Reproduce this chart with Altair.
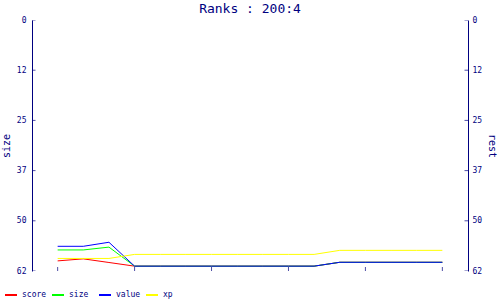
import altair as alt
import pandas as pd

NAVY = "#000080"
FONT = "DejaVu Sans Mono"

x_vals = [13, 14, 15, 16, 17, 18, 19, 20, 21, 22, 23, 24, 25, 26, 27, 28]
score = [59.5, 59.0, 59.9, 60.8, 60.8, 60.8, 60.8, 60.8, 60.8, 60.8, 60.8, 59.85, 59.85, 59.85, 59.85, 59.85]
size = [56.8, 56.8, 56.1, 60.8, 60.8, 60.8, 60.8, 60.8, 60.8, 60.8, 60.8, 59.85, 59.85, 59.85, 59.85, 59.85]
value = [55.9, 55.9, 54.9, 60.8, 60.8, 60.8, 60.8, 60.8, 60.8, 60.8, 60.8, 59.85, 59.85, 59.85, 59.85, 59.85]
xp = [58.9, 58.9, 58.9, 57.9, 57.9, 57.9, 57.9, 57.9, 57.9, 57.9, 57.9, 56.9, 56.9, 56.9, 56.9, 56.9]

series_names = ["score", "size", "value", "xp"]
series_colors = ["#ff0000", "#00ff00", "#0000ff", "#ffff00"]

x_ticks = [13, 16, 19, 22, 25, 28]
y_ticks = [0, 12.4, 24.8, 37.2, 49.6, 62]
x_domain = [12, 29]
y_domain = [0, 62]

df = pd.DataFrame({"x": x_vals, "score": score, "size": size, "value": value, "xp": xp})
long = df.melt(id_vars="x", var_name="series", value_name="rank")
xt = pd.DataFrame({"t": x_ticks})
yt = pd.DataFrame({"t": y_ticks})

xscale = alt.Scale(domain=x_domain, nice=False, zero=False)
yscale = alt.Scale(domain=y_domain, reverse=True, nice=False, zero=False)

lines = alt.Chart(long).mark_line(strokeWidth=1).encode(
    x=alt.X("x:Q", scale=xscale,
            axis=alt.Axis(values=x_ticks, title=None, labelPadding=3)),
    y=alt.Y("rank:Q", scale=yscale,
            axis=alt.Axis(values=y_ticks, format=".0f", title="size", orient="left",
                          labelPadding=6, titlePadding=5)),
    color=alt.Color("series:N",
                    scale=alt.Scale(domain=series_names, range=series_colors),
                    legend=alt.Legend(title=None, orient="none", legendX=-28, legendY=268,
                                      direction="horizontal", columns=4, symbolType="stroke",
                                      symbolSize=144, symbolStrokeWidth=2, gridAlign="all",
                                      columnPadding=1, labelOffset=4, labelFontSize=8,
                                      labelFont=FONT, labelColor=NAVY)),
    order=alt.Order("series:N"),
)

right_axis = alt.Chart(long).mark_line(opacity=0).encode(
    x=alt.X("x:Q", scale=xscale, axis=None),
    y=alt.Y("rank:Q", scale=yscale,
            axis=alt.Axis(values=y_ticks, format=".0f", title="rest", orient="right",
                          labelPadding=4, titlePadding=5)),
    detail="series:N",
)

bottom_ticks = alt.Chart(xt).mark_tick(orient="vertical", size=8, thickness=1, clip=True, color=NAVY).encode(
    x=alt.X("t:Q", scale=xscale, axis=None),
    y=alt.YDatum(62, scale=yscale, axis=None),
)
left_ticks = alt.Chart(yt).mark_tick(orient="horizontal", size=7, thickness=1, clip=True, color=NAVY).encode(
    x=alt.XDatum(12, scale=xscale, axis=None),
    y=alt.Y("t:Q", scale=yscale, axis=None),
)
right_ticks = alt.Chart(yt).mark_tick(orient="horizontal", size=7, thickness=1, clip=True, color=NAVY).encode(
    x=alt.XDatum(29, scale=xscale, axis=None),
    y=alt.Y("t:Q", scale=yscale, axis=None),
)

chart = alt.layer(lines, right_axis, bottom_ticks, left_ticks, right_ticks).resolve_scale(
    y="independent"
).properties(
    width=436,
    height=251,
    title=alt.Title("Ranks : 200:4", font=FONT, fontSize=13, fontWeight="normal",
                    color=NAVY, anchor="middle", offset=6, dy=6),
    autosize=alt.AutoSizeParams(type="none"),
    padding={"left": 32, "top": 20, "right": 32, "bottom": 29},
).configure_view(
    stroke=None
).configure_axis(
    grid=False,
    ticks=False,
    tickSize=0,
    domainColor=NAVY,
    domainWidth=1,
    labelColor=NAVY,
    labelFont=FONT,
    labelFontSize=8,
    titleColor=NAVY,
    titleFont=FONT,
    titleFontSize=10,
    titleFontWeight="normal",
)

chart.save("out.html", embed_options={"renderer": "svg", "actions": False})
